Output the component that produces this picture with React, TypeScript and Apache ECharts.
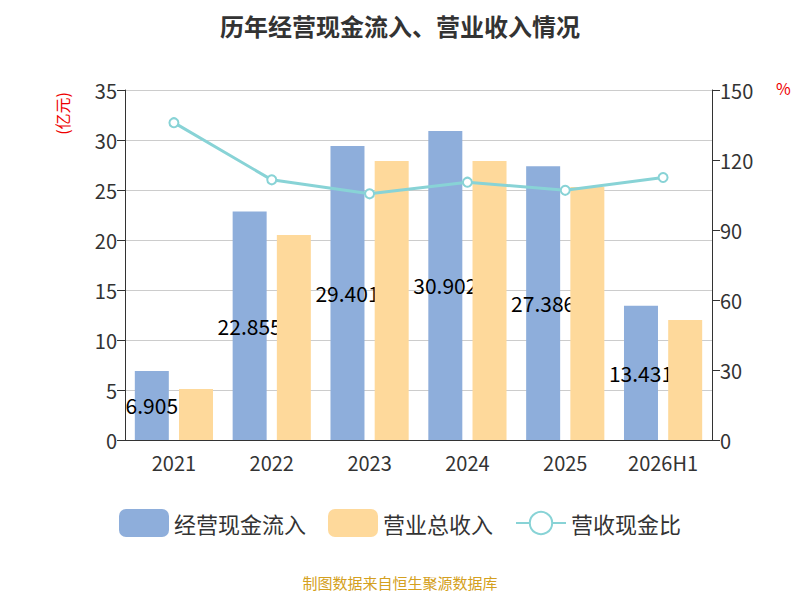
import React, { useEffect, useRef } from "react";
import * as echarts from "echarts";

const categories = ["2021", "2022", "2023", "2024", "2025", "2026H1"];
const cashIn = [6.905, 22.855, 29.401, 30.902, 27.386, 13.431];
const revenue = [5.1, 20.5, 27.9, 27.9, 25.3, 12.0];
const ratio = [136, 111.5, 105.5, 110.5, 107, 112.5];

export default function App() {
  const ref = useRef<HTMLDivElement>(null);
  useEffect(() => {
    const chart = echarts.init(ref.current!, undefined, { renderer: "svg" });
    const font = "Noto Sans CJK SC";
    chart.setOption({
      animation: false,
      textStyle: { fontFamily: font },
      title: { text: "历年经营现金流入、营业收入情况", left: "center", top: 0, textStyle: { fontSize: 24, fontWeight: "bold", color: "#333" } },
      grid: { left: 117, right: 80, top: 82, bottom: 152 },
      legend: {
        bottom: 50, itemWidth: 50, itemHeight: 28, itemGap: 22,
        textStyle: { fontSize: 22, color: "#333" },
        data: [{ name: "经营现金流入" }, { name: "营业总收入" }, { name: "营收现金比" }],
      },
      graphic: [
        { type: "text", left: 46, top: 84, rotation: Math.PI / 2, style: { text: "(亿元)", fill: "#e00", fontSize: 16, fontFamily: font } },
        { type: "text", left: 768, top: 72, style: { text: "%", fill: "#e00", fontSize: 16, fontFamily: font } },
        { type: "text", left: "center", bottom: 2, style: { text: "制图数据来自恒生聚源数据库", fill: "#d4a020", fontSize: 15, fontFamily: font } },
      ],
      xAxis: {
        type: "category", data: categories,
        axisLine: { lineStyle: { color: "#333" } },
        axisTick: { lineStyle: { color: "#333" }, length: 8 },
        axisLabel: { fontSize: 20, color: "#333", margin: 12 },
      },
      yAxis: [
        { type: "value", min: 0, max: 35, interval: 5,
          axisLine: { show: true, lineStyle: { color: "#333" } }, axisTick: { show: true, lineStyle: { color: "#333" }, length: 8 },
          axisLabel: { fontSize: 20, color: "#333" }, splitLine: { lineStyle: { color: "#ccc" } } },
        { type: "value", min: 0, max: 150, interval: 30,
          axisLine: { show: true, lineStyle: { color: "#333" } }, axisTick: { show: true, lineStyle: { color: "#333" }, length: 8 },
          axisLabel: { fontSize: 20, color: "#333" }, splitLine: { show: false } },
      ],
      series: [
        { name: "经营现金流入", type: "bar", data: cashIn, barWidth: 34, barGap: "30%", z: 1,
          itemStyle: { color: "#8eaedb" },
          label: { show: true, position: "inside", color: "#000", fontSize: 21 } },
        { name: "营业总收入", type: "bar", data: revenue, barWidth: 34, z: 3,
          itemStyle: { color: "#fed99b" } },
        { name: "营收现金比", type: "line", yAxisIndex: 1, data: ratio, z: 4,
          symbol: "circle", symbolSize: 9,
          lineStyle: { color: "#88d3d6", width: 3 },
          itemStyle: { color: "#fff", borderColor: "#88d3d6", borderWidth: 2 } },
      ],
    });
    return () => chart.dispose();
  }, []);
  return <div ref={ref} style={{ width: 784, height: 584 }} />;
}
